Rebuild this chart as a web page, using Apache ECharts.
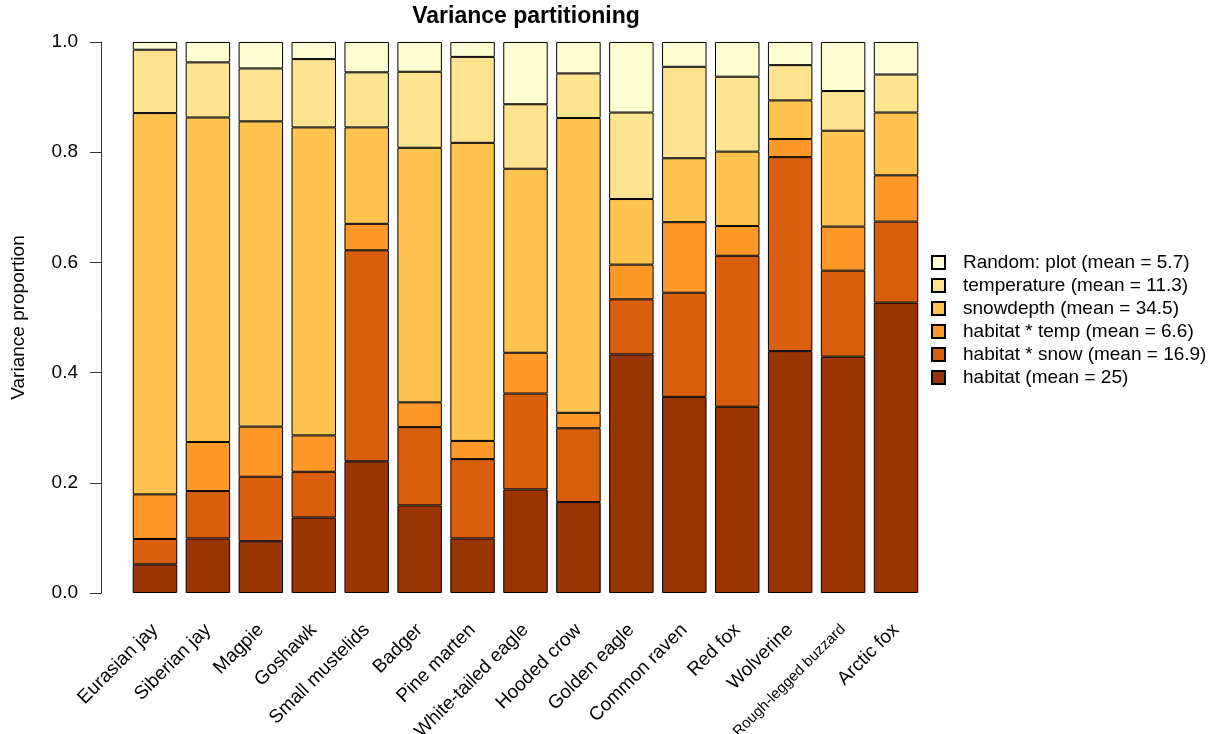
<!DOCTYPE html>
<html>
<head>
<meta charset="utf-8">
<title>Variance partitioning</title>
<script src="https://cdn.jsdelivr.net/npm/echarts@6/dist/echarts.min.js"></script>
<style>
  html, body { margin: 0; padding: 0; background: #fff; }
  #chart { width: 1223px; height: 734px; }
</style>
</head>
<body>
<div id="chart"></div>
<script>
const species = [
  "Eurasian jay", "Siberian jay", "Magpie", "Goshawk", "Small mustelids",
  "Badger", "Pine marten", "White-tailed eagle", "Hooded crow", "Golden eagle",
  "Common raven", "Red fox", "Wolverine", "Rough-legged buzzard", "Arctic fox",
];

// proportions per species, bottom to top of each bar
const habitat = [0.052, 0.099, 0.094, 0.137, 0.239, 0.159, 0.099, 0.188, 0.165, 0.433, 0.356, 0.338, 0.439, 0.429, 0.527];
const habitatSnow = [0.046, 0.086, 0.117, 0.083, 0.383, 0.142, 0.144, 0.174, 0.134, 0.100, 0.189, 0.274, 0.352, 0.156, 0.147];
const habitatTemp = [0.081, 0.089, 0.091, 0.066, 0.048, 0.045, 0.033, 0.074, 0.028, 0.063, 0.128, 0.054, 0.033, 0.080, 0.084];
const snowdepth = [0.692, 0.589, 0.554, 0.559, 0.175, 0.462, 0.541, 0.334, 0.535, 0.119, 0.116, 0.135, 0.070, 0.174, 0.114];
const temperature = [0.115, 0.100, 0.096, 0.124, 0.100, 0.138, 0.156, 0.117, 0.081, 0.157, 0.166, 0.136, 0.064, 0.072, 0.069];
const randomPlot = [0.014, 0.037, 0.048, 0.031, 0.055, 0.054, 0.027, 0.113, 0.057, 0.128, 0.045, 0.063, 0.042, 0.089, 0.059];

const seriesNames = [
  "habitat (mean = 25)",
  "habitat * snow (mean = 16.9)",
  "habitat * temp (mean = 6.6)",
  "snowdepth (mean = 34.5)",
  "temperature (mean = 11.3)",
  "Random: plot (mean = 5.7)",
];
const seriesData = [habitat, habitatSnow, habitatTemp, snowdepth, temperature, randomPlot];
const colors = ["#993404", "#D95F0E", "#FE9929", "#FEC44F", "#FEE391", "#FFFFD4"];
const yTicks = [0, 0.2, 0.4, 0.6, 0.8, 1.0];

const font = "'Liberation Sans', Arial, Helvetica, sans-serif";
const chart = echarts.init(document.getElementById("chart"));

const option = {
  animation: false,
  textStyle: { fontFamily: font },
  title: {
    text: "Variance partitioning",
    left: 521,
    textAlign: "center",
    top: 0,
    textStyle: { fontSize: 23, fontWeight: "bold", color: "#000", fontFamily: font },
  },
  legend: {
    orient: "vertical",
    left: 926,
    top: 246,
    itemWidth: 13,
    itemHeight: 13,
    itemGap: 0,
    icon: "rect",
    data: seriesNames.slice().reverse(),
    textStyle: { fontSize: 19, color: "#000", lineHeight: 23, padding: [0, 0, 0, 13], fontFamily: font },
  },
  grid: { left: 128.5, top: 42, width: 794, height: 551, outerBoundsMode: "none" },
  xAxis: {
    type: "category",
    data: species.map((s) =>
      s === "Rough-legged buzzard" ? { value: s, textStyle: { fontSize: 15 } } : s
    ),
    axisLine: { show: false },
    axisTick: { show: false },
    axisLabel: {
      rotate: 45,
      interval: 0,
      margin: 34,
      fontSize: 19,
      color: "#000",
      fontFamily: font,
    },
  },
  yAxis: {
    type: "value",
    min: 0,
    max: 1,
    interval: 0.2,
    offset: 27.5,
    name: "Variance proportion",
    nameLocation: "middle",
    nameGap: 73,
    nameTextStyle: { fontSize: 19, color: "#000", fontFamily: font },
    splitLine: { show: false },
    axisLine: { show: true, lineStyle: { color: "#333", width: 1 } },
    axisTick: { show: true, length: 11, lineStyle: { color: "#333" } },
    axisLabel: {
      margin: 23,
      fontSize: 19,
      color: "#000",
      fontFamily: font,
      formatter: (v) => (yTicks.includes(v) ? v.toFixed(1) : ""),
    },
  },
  series: seriesNames.map((name, i) => ({
    name: name,
    type: "bar",
    stack: "total",
    barWidth: "84%",
    data: seriesData[i],
    itemStyle: { color: colors[i], borderColor: "#000", borderWidth: 1 },
  })),
};

chart.setOption(option);
</script>
</body>
</html>
